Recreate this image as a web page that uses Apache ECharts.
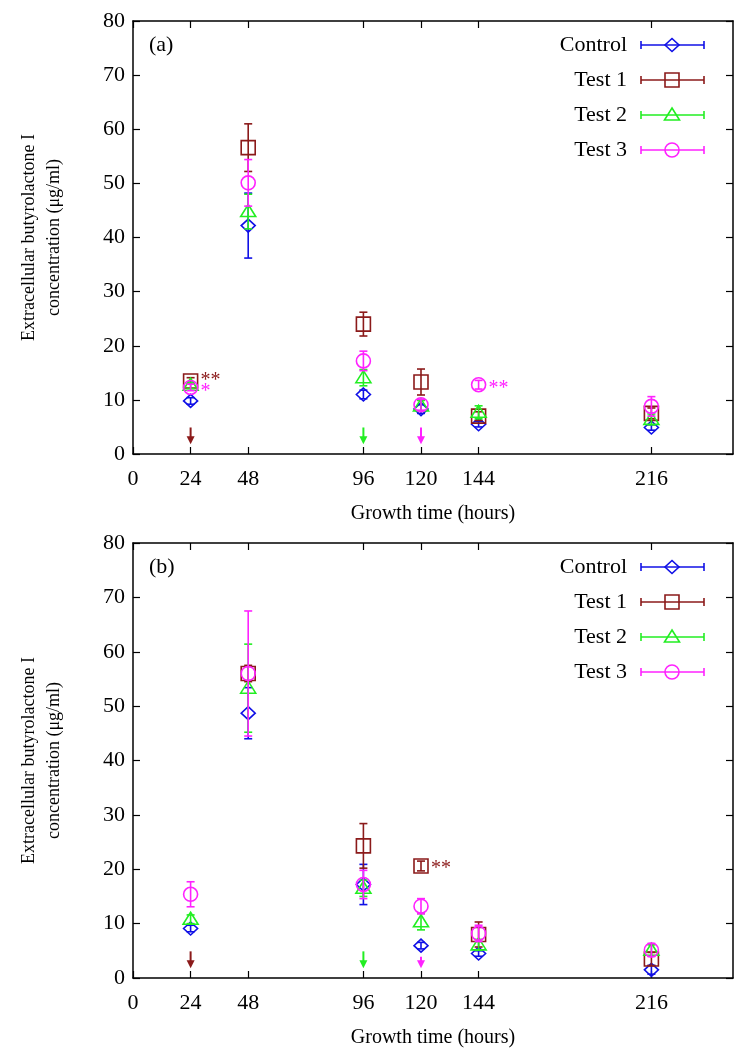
<!DOCTYPE html>
<html><head><meta charset="utf-8">
<script src="https://cdn.jsdelivr.net/npm/echarts@6/dist/echarts.min.js"></script>
<style>html,body{margin:0;padding:0;background:#fff}#c{width:739px;height:1052px}</style>
</head><body><div id="c"></div>
<script>
// ---------------- data ----------------
const times = [24, 48, 96, 120, 144, 216];
const xTickValues = [0, 24, 48, 96, 120, 144, 216];
const seriesNames = ['Control', 'Test 1', 'Test 2', 'Test 3'];
const xTitle = 'Growth time (hours)';
const yTitle = 'Extracellular butyrolactone I\nconcentration (\u03bcg/ml)';
const panelLabels = ['(a)', '(b)'];

// Panel (a): means and error (±)
const aControl    = [9.8, 42.2, 11.0, 8.3, 5.5, 4.9];
const aControlErr = [0.6, 6.0, 0.8, 0.8, 0.5, 0.5];
const aTest1      = [13.5, 56.6, 24.0, 13.3, 7.0, 7.5];
const aTest1Err   = [0.6, 4.4, 2.2, 2.4, 0.8, 1.0];
const aTest2      = [12.7, 44.8, 14.1, 8.9, 7.7, 6.4];
const aTest2Err   = [0.6, 3.2, 1.5, 1.0, 1.2, 1.0];
const aTest3      = [12.3, 50.1, 17.2, 9.1, 12.8, 8.8];
const aTest3Err   = [0.6, 4.3, 1.8, 1.0, 0.8, 1.8];

// Panel (b)  (null = no point shown)
const bControl    = [9.1, 48.7, 17.2, 5.95, 4.5, 1.5];
const bControlErr = [0.6, 4.7, 3.7, 0.6, 0.5, 0.8];
const bTest1      = [null, 56.0, 24.3, 20.6, 8.0, 3.5];
const bTest1Err   = [null, 1.5, 4.1, 0.9, 2.3, 1.2];
const bTest2      = [10.8, 53.3, 16.5, 10.35, 6.1, 5.1];
const bTest2Err   = [0.8, 8.1, 1.5, 1.5, 1.0, 1.0];
const bTest3      = [15.4, 56.0, 17.2, 13.2, 8.2, 5.15];
const bTest3Err   = [2.3, 11.5, 2.6, 1.4, 1.5, 1.2];

// significance marks: [time, value, text, series index]
const aStars = [[24, 14.4, '**', 1], [24, 12.4, '*', 3], [144, 12.9, '**', 3]];
const bStars = [[120, 21.0, '**', 1]];
// arrows: [time, from value, to value, series index]
const aArrows = [[24, 4.9, 1.8, 1], [96, 4.9, 1.8, 2], [120, 4.9, 1.8, 3]];
const bArrows = [[24, 4.9, 1.8, 1], [96, 4.9, 1.8, 2], [120, 3.9, 1.8, 3]];

// ---------------- styles ----------------
const colors = ['#1010e6', '#8b1a1a', '#22ee22', '#ff22ff'];
const shapes = ['diamond', 'square', 'triangle', 'circle'];
const FONT = '"Liberation Serif", "DejaVu Serif", serif';

const panels = [
  {vals: [aControl, aTest1, aTest2, aTest3], errs: [aControlErr, aTest1Err, aTest2Err, aTest3Err], stars: aStars, arrows: aArrows},
  {vals: [bControl, bTest1, bTest2, bTest3], errs: [bControlErr, bTest1Err, bTest2Err, bTest3Err], stars: bStars, arrows: bArrows}
];
const grids = [
  {left: 133, top: 21, width: 600, height: 433},
  {left: 133, top: 543, width: 600, height: 435}
];

function marker(shape, cx, cy, color) {
  const style = {stroke: color, fill: 'none', lineWidth: 1.6};
  if (shape === 'diamond') return {type: 'polygon', shape: {points: [[cx, cy - 6.5], [cx + 7, cy], [cx, cy + 6.5], [cx - 7, cy]]}, style};
  if (shape === 'square') return {type: 'rect', shape: {x: cx - 7, y: cy - 7, width: 14, height: 14}, style};
  if (shape === 'triangle') return {type: 'polygon', shape: {points: [[cx, cy - 7], [cx + 7.5, cy + 5], [cx - 7.5, cy + 5]]}, style};
  return {type: 'circle', shape: {cx, cy, r: 7}, style};
}

const series = [];
const xAxis = [], yAxis = [];
const graphic = [];

grids.forEach((g, gi) => {
  const axisLine = {show: true, onZero: false, lineStyle: {color: '#000', width: 1.5}};
  const tickStyle = {color: '#000', width: 1.2};
  xAxis.push({
    gridIndex: gi, type: 'value', min: 0, max: 250, position: 'bottom',
    axisLine, axisTick: {show: true, inside: true, length: 7, customValues: xTickValues, lineStyle: tickStyle},
    axisLabel: {customValues: xTickValues, color: '#000', fontFamily: FONT, fontSize: 22, margin: 14},
    splitLine: {show: false},
    name: xTitle, nameLocation: 'middle', nameGap: 50,
    nameTextStyle: {color: '#000', fontFamily: FONT, fontSize: 20}
  });
  xAxis.push({
    gridIndex: gi, type: 'value', min: 0, max: 250, position: 'top',
    axisLine, axisTick: {show: true, inside: true, length: 7, customValues: xTickValues, lineStyle: tickStyle},
    axisLabel: {show: false}, splitLine: {show: false}
  });
  yAxis.push({
    gridIndex: gi, type: 'value', min: 0, max: 80, interval: 10, position: 'left',
    axisLine, axisTick: {show: true, inside: true, length: 7, lineStyle: tickStyle},
    axisLabel: {color: '#000', fontFamily: FONT, fontSize: 22, margin: 8},
    splitLine: {show: false}
  });
  yAxis.push({
    gridIndex: gi, type: 'value', min: 0, max: 80, interval: 10, position: 'right',
    axisLine, axisTick: {show: true, inside: true, length: 7, lineStyle: tickStyle},
    axisLabel: {show: false}, splitLine: {show: false}
  });

  const p = panels[gi];
  // arrows
  series.push({
    type: 'custom', xAxisIndex: gi * 2, yAxisIndex: gi * 2, silent: true, z: 2,
    data: p.arrows,
    renderItem: (params, api) => {
      const t = api.value(0);
      const a = api.coord([t, api.value(1)]);
      const b = api.coord([t, api.value(2)]);
      const col = colors[api.value(3)];
      return {type: 'group', children: [
        {type: 'line', shape: {x1: a[0], y1: a[1], x2: b[0], y2: b[1] - 5}, style: {stroke: col, lineWidth: 2}},
        {type: 'polygon', shape: {points: [[b[0] - 4, b[1] - 8], [b[0] + 4, b[1] - 8], [b[0], b[1]]]}, style: {fill: col}}
      ]};
    }
  });
  // data series
  seriesNames.forEach((name, si) => {
    const col = colors[si];
    series.push({
      type: 'custom', name, xAxisIndex: gi * 2, yAxisIndex: gi * 2, z: 3 + si,
      data: times.map((t, i) => p.vals[si][i] == null ? [t, '-', '-'] : [t, p.vals[si][i], p.errs[si][i]]),
      renderItem: (params, api) => {
        const t = api.value(0), v = api.value(1), e = api.value(2);
        if (isNaN(v)) return null;
        const c = api.coord([t, v]);
        const top = api.coord([t, v + e]);
        const bot = api.coord([t, v - e]);
        const ls = {stroke: col, lineWidth: 1.6};
        return {type: 'group', children: [
          {type: 'line', shape: {x1: c[0], y1: top[1], x2: c[0], y2: bot[1]}, style: ls},
          {type: 'line', shape: {x1: c[0] - 4, y1: top[1], x2: c[0] + 4, y2: top[1]}, style: ls},
          {type: 'line', shape: {x1: c[0] - 4, y1: bot[1], x2: c[0] + 4, y2: bot[1]}, style: ls},
          marker(shapes[si], c[0], c[1], col)
        ]};
      }
    });
  });
  // stars
  series.push({
    type: 'custom', xAxisIndex: gi * 2, yAxisIndex: gi * 2, silent: true, z: 10,
    data: p.stars,
    renderItem: (params, api) => {
      const c = api.coord([api.value(0), api.value(1)]);
      return {type: 'text', x: c[0] + 10, y: c[1] + 5,
        style: {text: p.stars[params.dataIndex][2], fill: colors[api.value(3)], font: '20px ' + FONT,
                textAlign: 'left', textVerticalAlign: 'middle'}};
    }
  });

  // panel label
  graphic.push({type: 'text', x: g.left + 16, y: g.top + 24,
    style: {text: panelLabels[gi], fill: '#000', font: '22px ' + FONT, textAlign: 'left', textVerticalAlign: 'middle'}});
  // y title
  graphic.push({type: 'text', x: 42, y: g.top + g.height / 2, rotation: Math.PI / 2,
    style: {text: yTitle, fill: '#000', font: '18px ' + FONT, textAlign: 'center', textVerticalAlign: 'middle', lineHeight: 25}});
  // legend
  seriesNames.forEach((name, si) => {
    const y = g.top + 24 + si * 35;
    const col = colors[si];
    const ls = {stroke: col, lineWidth: 1.6};
    graphic.push({type: 'text', x: 627, y: y,
      style: {text: name, fill: '#000', font: '22px ' + FONT, textAlign: 'right', textVerticalAlign: 'middle'}});
    graphic.push({type: 'line', shape: {x1: 641, y1: y, x2: 704, y2: y}, style: ls});
    graphic.push({type: 'line', shape: {x1: 641, y1: y - 4, x2: 641, y2: y + 4}, style: ls});
    graphic.push({type: 'line', shape: {x1: 704, y1: y - 4, x2: 704, y2: y + 4}, style: ls});
    graphic.push(marker(shapes[si], 672, y, col));
  });
});

const chart = echarts.init(document.getElementById('c'), null, {renderer: 'canvas'});
chart.setOption({
  backgroundColor: '#fff',
  animation: false,
  grid: grids,
  xAxis, yAxis, series, graphic
});
</script>
</body></html>
